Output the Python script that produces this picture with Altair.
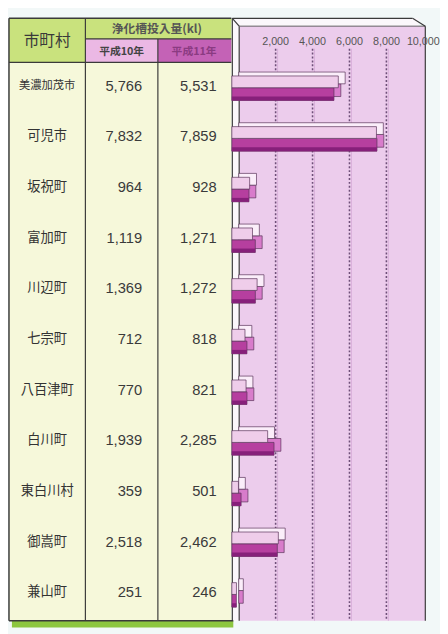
import altair as alt
import pandas as pd

names = ["美濃加茂市", "可児市", "坂祝町", "富加町", "川辺町", "七宗町",
         "八百津町", "白川町", "東白川村", "御嵩町", "兼山町"]
h10 = [5766, 7832, 964, 1119, 1369, 712, 770, 1939, 359, 2518, 251]
h11 = [5531, 7859, 928, 1271, 1272, 818, 821, 2285, 501, 2462, 246]
tick_values = [2000, 4000, 6000, 8000, 10000]
tick_labels = ["2,000", "4,000", "6,000", "8,000", "10,000"]
header_name = "市町村"
header_amount = "浄化槽投入量(kl)"
header_y10 = "平成10年"
header_y11 = "平成11年"

df = pd.DataFrame({"name": names, "h10": h10, "h11": h11})
df["h10_label"] = [f"{v:,}" for v in h10]
df["h11_label"] = [f"{v:,}" for v in h11]
ticks = pd.DataFrame({"t": tick_values, "label": tick_labels})
grid = ticks[ticks.t < 10000]
one = pd.DataFrame({"k": [0]})

JP = "Noto Sans CJK JP"
NUM = "Liberation Sans"
LINE = "#3a3a3a"

xscale = alt.Scale(domain=[0, 10000], range=[234.5, 423])
yscale = alt.Scale(domain=names, range=[47, 616], paddingInner=0, paddingOuter=0)
Y = alt.Y("name:N", scale=yscale, axis=None)


def box(x1, y1, x2, y2, fill, stroke=None, sw=1.0, opacity=1.0):
    kw = dict(color=fill, fill=fill, fillOpacity=opacity)
    if stroke:
        kw.update(stroke=stroke, strokeWidth=sw)
    else:
        kw.update(strokeWidth=0)
    return alt.Chart(one).mark_rect(**kw).encode(
        x=alt.value(x1), x2=alt.value(x2), y=alt.value(y1), y2=alt.value(y2))


def line(x1, y1, x2, y2, color=LINE, sw=1.2, dash=None):
    kw = dict(color=color, strokeWidth=sw)
    if dash:
        kw["strokeDash"] = dash
    return alt.Chart(one).mark_rule(**kw).encode(
        x=alt.value(x1), x2=alt.value(x2), y=alt.value(y1), y2=alt.value(y2))


def label(x, y, s, size=12, color="#333", weight="normal", font=JP):
    return alt.Chart(one).mark_text(
        fontSize=size, color=color, fontWeight=weight, font=font,
        align="center", baseline="middle").encode(
        x=alt.value(x), y=alt.value(y), text=alt.value(s))


GREEN = "#c9e27d"
layers = [
    # table backgrounds
    box(0, 4, 227, 619, "#f6f8da"),
    box(0, 4, 227, 25, GREEN),
    box(0, 25, 78, 49, GREEN),
    box(78, 25, 152, 49, "#ebb8e4"),
    box(152, 25, 227, 49, "#c462b6"),
    box(3, 619, 229, 626, "#8cc63f"),
    # chart frame
    box(228, 4, 235, 619, "#fbf7fb"),
    box(228, 4, 418, 12, "#fbf7fb"),
    box(235, 12, 425, 619, "#ecccec"),
    line(228, 4, 412, 4), line(412, 4, 425, 12), line(425, 12, 425, 619),
    line(228, 4, 228, 619), line(235, 12, 235, 619), line(228, 4, 235, 12),
    line(235, 12, 425, 12, sw=0.8),
]

# gridlines and tick labels
layers.append(alt.Chart(grid).mark_rule(color="#6e4f78", strokeWidth=1.6, strokeDash=[2, 2]).encode(
    x=alt.X("t:Q", scale=xscale, axis=None), y=alt.value(35), y2=alt.value(619)))
layers.append(alt.Chart(grid).mark_rule(color="#d9b0da", strokeWidth=1).encode(
    x=alt.X("t:Q", scale=xscale, axis=None), xOffset=alt.value(2), y=alt.value(35), y2=alt.value(619)))
layers.append(alt.Chart(ticks).mark_text(font=NUM, fontSize=11, color="#555", baseline="middle").encode(
    x=alt.X("t:Q", scale=xscale, axis=None), y=alt.value(28), text="label:N"))

# 3D-looking bars
bar_stroke = dict(stroke="#5a345a", strokeWidth=0.7)
base = alt.Chart(df)
layers += [
    base.mark_bar(size=13, yOffset=4.5, color="#d87ccb", **bar_stroke).encode(
        x=alt.X("h11:Q", scale=xscale, axis=None), y=Y),
    base.mark_bar(size=13, yOffset=8.5, xOffset=-7, color="#b63f9f", **bar_stroke).encode(
        x=alt.X("h11:Q", scale=xscale, axis=None), y=Y),
    base.mark_bar(size=4, yOffset=13, xOffset=-7, color="#86207a", strokeWidth=0).encode(
        x=alt.X("h11:Q", scale=xscale, axis=None), y=Y),
    base.mark_bar(size=12, yOffset=-8, color="#fbeefa", **bar_stroke).encode(
        x=alt.X("h10:Q", scale=xscale, axis=None), y=Y),
    base.mark_bar(size=12, yOffset=-4, xOffset=-7, color="#efcdea", **bar_stroke).encode(
        x=alt.X("h10:Q", scale=xscale, axis=None), y=Y),
]

# table lines
layers += [
    line(0, 4, 0, 619, sw=1.5), line(0, 4, 227, 4, sw=1.5), line(0, 619, 229, 619, sw=1.5),
    line(78, 4, 78, 619), line(152, 25, 152, 619),
    line(78, 25, 227, 25), line(0, 49, 227, 49),
]

# table text
layers += [
    label(39, 27, header_name, size=16, color="#3a3a3a"),
    label(151, 15, header_amount, size=12, color="#555", weight="bold"),
    label(115, 38, header_y10, size=11, color="#444", weight="bold"),
    label(189, 38, header_y11, size=11, color="#8b3b82", weight="bold"),
]
layers.append(base.mark_text(font=JP, color="#333", align="center", baseline="middle").encode(
    y=Y, x=alt.value(39), text="name:N",
    size=alt.condition("datum.name === '美濃加茂市'", alt.value(11.5), alt.value(13.5))))
layers.append(base.mark_text(font=NUM, fontSize=15, color="#3a3a3a", align="right", baseline="middle").encode(
    y=Y, x=alt.value(136), text="h10_label:N"))
layers.append(base.mark_text(font=NUM, fontSize=15, color="#3a3a3a", align="right", baseline="middle").encode(
    y=Y, x=alt.value(212), text="h11_label:N"))

chart = alt.layer(*layers).properties(
    width=432, height=626, padding=0, background="#f2f8f8"
).configure_view(stroke=None)

chart.save("out.html", embed_options={"renderer": "svg", "actions": False})
